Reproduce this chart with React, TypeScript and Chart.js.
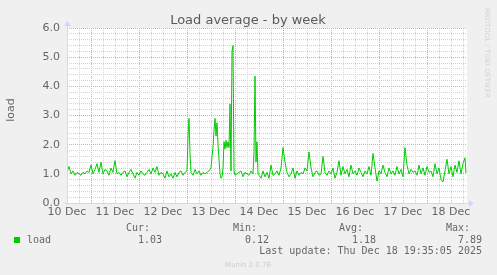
import React, { useEffect, useRef } from 'react';
import { Chart, registerables } from 'chart.js';

Chart.register(...registerables);

// X axis: hours since 10 Dec 12:00 (labels at noon, major grid at midnight)
const dayLabels = ['10 Dec', '11 Dec', '12 Dec', '13 Dec', '14 Dec', '15 Dec', '16 Dec', '17 Dec', '18 Dec'];
const yTickLabels = ['0.0', '1.0', '2.0', '3.0', '4.0', '5.0', '6.0'];

// hourly load samples, index = hour
const hourlyLoad = [
  1.05, 1.25, 1.0, 1.1, 0.95, 1.05, 1.0, 0.95, 1.05, 1.0,
  1.1, 1.05, 1.3, 1.0, 1.15, 1.35, 1.05, 1.4, 1.0, 1.15,
  1.1, 0.95, 1.2, 1.05, 1.45, 1.0, 1.05, 0.95, 1.05, 1.1,
  0.9, 1.05, 1.15, 1.0, 0.85, 1.05, 0.95, 1.1, 1.0, 0.95,
  1.05, 1.15, 1.0, 1.2, 1.05, 1.25, 0.95, 1.05, 1.0, 0.85,
  1.1, 0.9, 1.0, 0.85, 1.05, 0.9, 1.05, 1.1, 0.95, 1.05,
  1.1, 2.9, 1.05, 0.95, 1.15, 1.0, 1.1, 0.95, 1.05, 1.0,
  1.05, 1.1, 1.2, 1.9, 2.9, 2.75, 1.5, 0.85, 1.2, 1.85,
  1.9, 1.9, 1.1, 5.4, 0.95, 1.0, 1.05, 1.1, 0.9, 1.05,
  1.0, 0.95, 1.1, 1.0, 4.35, 2.1, 0.95, 0.85, 1.1, 0.9,
  1.05, 0.85, 1.3, 0.95, 1.0, 1.1, 0.95, 1.2, 1.9, 1.4,
  1.05, 0.9, 1.0, 1.2, 0.85, 1.1, 0.95, 1.05, 1.0, 1.2,
  1.1, 1.75, 1.2, 0.9, 1.05, 1.1, 0.95, 1.0, 1.6, 1.05,
  0.95, 1.1, 1.0, 1.2, 0.85, 1.05, 1.45, 0.95, 1.25, 1.0,
  1.15, 0.9, 1.3, 1.0, 1.1, 0.95, 1.2, 1.05, 0.9, 1.1,
  1.0, 1.25, 0.95, 1.7, 1.2, 0.75, 1.1, 1.0, 1.3, 1.05,
  0.9, 1.2, 1.0, 1.1, 0.95, 1.25, 1.0, 1.15, 0.9, 1.9,
  1.3, 1.0, 1.15, 1.05, 1.1, 0.95, 1.3, 1.0, 1.2, 0.95,
  1.25, 1.05, 1.1, 0.9, 1.35, 1.0, 1.2, 0.8, 0.72, 1.1,
  1.5, 1.0, 1.25, 0.9, 1.3, 1.05, 1.45, 1.0, 1.35, 1.55,
];

// extra half-hour samples around the spikes
const halfHourTimes = [60.5, 61.5, 72.5, 73.5, 74.5, 75.5, 76.5, 77.5, 78.5, 79.5, 80.5, 81.5, 82.5, 83.5, 93.5, 94.5, 95.5, 199.5];
const halfHourLoad = [2.3, 1.7, 1.6, 2.5, 2.3, 2.0, 1.0, 0.9, 2.1, 2.15, 2.1, 3.4, 5.2, 1.1, 1.75, 1.4, 1.0, 1.03];

const statLabels = ['Cur:', 'Min:', 'Avg:', 'Max:'];
const statValues = ['1.03', '0.12', '1.18', '7.89'];
const seriesName = 'load';
const titleText = 'Load average - by week';
const yAxisTitle = 'load';
const lastUpdate = 'Last update: Thu Dec 18 19:35:05 2025';
const footerText = 'Munin 2.0.76';
const watermark = 'RRDTOOL / TOBI OETIKER';

const FONT_COLOR = '#666666';
const AXIS_COLOR = '#cfd6f8';
const LINE_COLOR = '#00cc00';
const MINOR_GRID = '#d2d2d2';
const MAJOR_GRID = '#e8a4a4';

const isMajorX = (v: number) => ((v - 12) % 24 + 24) % 24 === 0;
const isInt = (v: number) => Math.abs(v - Math.round(v)) < 1e-6;

const muninPlugin = {
  id: 'muninDecor',
  beforeDraw(chart: any) {
    const { ctx, chartArea: a } = chart;
    ctx.save();
    ctx.fillStyle = '#f0f0f0';
    ctx.fillRect(0, 0, chart.width, chart.height);
    ctx.fillStyle = '#ffffff';
    ctx.fillRect(a.left, a.top, a.right - a.left, a.bottom - a.top);
    ctx.restore();
  },
  afterDraw(chart: any) {
    const { ctx, chartArea: a } = chart;
    ctx.save();
    // axes
    ctx.strokeStyle = AXIS_COLOR;
    ctx.fillStyle = AXIS_COLOR;
    ctx.lineWidth = 1;
    ctx.beginPath();
    ctx.moveTo(a.left - 2, a.bottom + 0.5);
    ctx.lineTo(a.right + 3, a.bottom + 0.5);
    ctx.moveTo(a.left + 0.5, a.bottom + 2);
    ctx.lineTo(a.left + 0.5, a.top - 3);
    ctx.stroke();
    // arrows
    ctx.beginPath();
    ctx.moveTo(a.right + 7, a.bottom + 0.5);
    ctx.lineTo(a.right + 2, a.bottom - 3);
    ctx.lineTo(a.right + 2, a.bottom + 4);
    ctx.closePath();
    ctx.fill();
    ctx.beginPath();
    ctx.moveTo(a.left + 0.5, a.top - 7);
    ctx.lineTo(a.left - 3, a.top - 2);
    ctx.lineTo(a.left + 4, a.top - 2);
    ctx.closePath();
    ctx.fill();

    // title
    ctx.fillStyle = '#5a5a5a';
    ctx.font = "13px 'DejaVu Sans'";
    ctx.textAlign = 'center';
    ctx.textBaseline = 'alphabetic';
    ctx.fillText(titleText, 248, 24);

    // y axis title
    ctx.fillStyle = FONT_COLOR;
    ctx.font = "11px 'DejaVu Sans'";
    ctx.save();
    ctx.translate(14, 110);
    ctx.rotate(-Math.PI / 2);
    ctx.textAlign = 'center';
    ctx.fillText(yAxisTitle, 0, 0);
    ctx.restore();

    // legend
    ctx.fillStyle = LINE_COLOR;
    ctx.fillRect(14, 237, 6, 6);
    ctx.fillStyle = FONT_COLOR;
    ctx.font = "10px 'DejaVu Sans Mono'";
    ctx.textAlign = 'left';
    ctx.fillText(seriesName, 27, 243);
    const labelRight = [150, 257, 363, 470];
    const valueRight = [162, 269, 376, 482];
    ctx.textAlign = 'right';
    statLabels.forEach((t, i) => ctx.fillText(t, labelRight[i], 231));
    statValues.forEach((t, i) => ctx.fillText(t, valueRight[i], 243));
    ctx.fillText(lastUpdate, 482, 254);

    // footer
    ctx.fillStyle = '#cccccc';
    ctx.font = "7px 'DejaVu Sans'";
    ctx.textAlign = 'center';
    ctx.fillText(footerText, 248, 267);

    // watermark
    ctx.save();
    ctx.translate(485, 53);
    ctx.rotate(Math.PI / 2);
    ctx.fillStyle = '#d4d4d4';
    ctx.font = "7px 'DejaVu Sans'";
    ctx.textAlign = 'center';
    ctx.fillText(watermark, 0, 0);
    ctx.restore();

    ctx.restore();
  },
};

export default function App() {
  const ref = useRef<HTMLCanvasElement>(null);

  useEffect(() => {
    if (!ref.current) return;
    const points: { x: number; y: number }[] = [];
    hourlyLoad.forEach((v, i) => points.push({ x: i, y: v }));
    halfHourTimes.forEach((t, i) => points.push({ x: t, y: halfHourLoad[i] }));
    points.sort((p, q) => p.x - q.x);

    const chart = new Chart(ref.current, {
      type: 'line',
      data: {
        datasets: [
          {
            label: seriesName,
            data: points,
            borderColor: LINE_COLOR,
            borderWidth: 1,
            pointRadius: 0,
            tension: 0,
            fill: false,
          },
        ],
      },
      options: {
        responsive: false,
        animation: false,
        devicePixelRatio: 1,
        layout: { padding: { top: 28, right: 30, left: 0, bottom: 0 } },
        plugins: {
          legend: { display: false },
          tooltip: { enabled: false },
          title: { display: false },
        },
        scales: {
          x: {
            type: 'linear',
            min: 0,
            max: 200,
            afterBuildTicks: (s: any) => {
              const t = [];
              for (let h = 0; h <= 198; h += 6) t.push({ value: h });
              s.ticks = t;
            },
            afterFit: (s: any) => {
              s.height = 72;
            },
            grid: {
              drawTicks: false,
              color: (c: any) => (isMajorX(c.tick.value) ? MAJOR_GRID : MINOR_GRID),
              lineWidth: 1,
            },
            border: { display: false, dash: [1, 1] },
            ticks: {
              autoSkip: false,
              maxRotation: 0,
              padding: 3,
              color: FONT_COLOR,
              font: { family: "'DejaVu Sans'", size: 11 },
              callback: (v: any) => (v % 24 === 0 ? dayLabels[v / 24] : ''),
            },
          },
          y: {
            type: 'linear',
            min: 0,
            max: 6,
            afterBuildTicks: (s: any) => {
              const t = [];
              for (let i = 0; i <= 30; i++) t.push({ value: i / 5 });
              s.ticks = t;
            },
            afterFit: (s: any) => {
              s.width = 67;
            },
            grid: {
              drawTicks: false,
              color: (c: any) => (isInt(c.tick.value) ? MAJOR_GRID : MINOR_GRID),
              lineWidth: 1,
            },
            border: { display: false, dash: [1, 1] },
            ticks: {
              autoSkip: false,
              padding: 7,
              color: FONT_COLOR,
              font: { family: "'DejaVu Sans'", size: 11 },
              callback: (v: any) => (isInt(v) ? yTickLabels[Math.round(v)] : ''),
            },
          },
        },
      },
      plugins: [muninPlugin],
    });
    return () => chart.destroy();
  }, []);

  return (
    <div style={{ position: 'fixed', left: 0, top: 0, width: 497, height: 275, background: '#f0f0f0' }}>
      <canvas ref={ref} width={497} height={275} style={{ display: 'block', width: 497, height: 275 }} />
    </div>
  );
}
